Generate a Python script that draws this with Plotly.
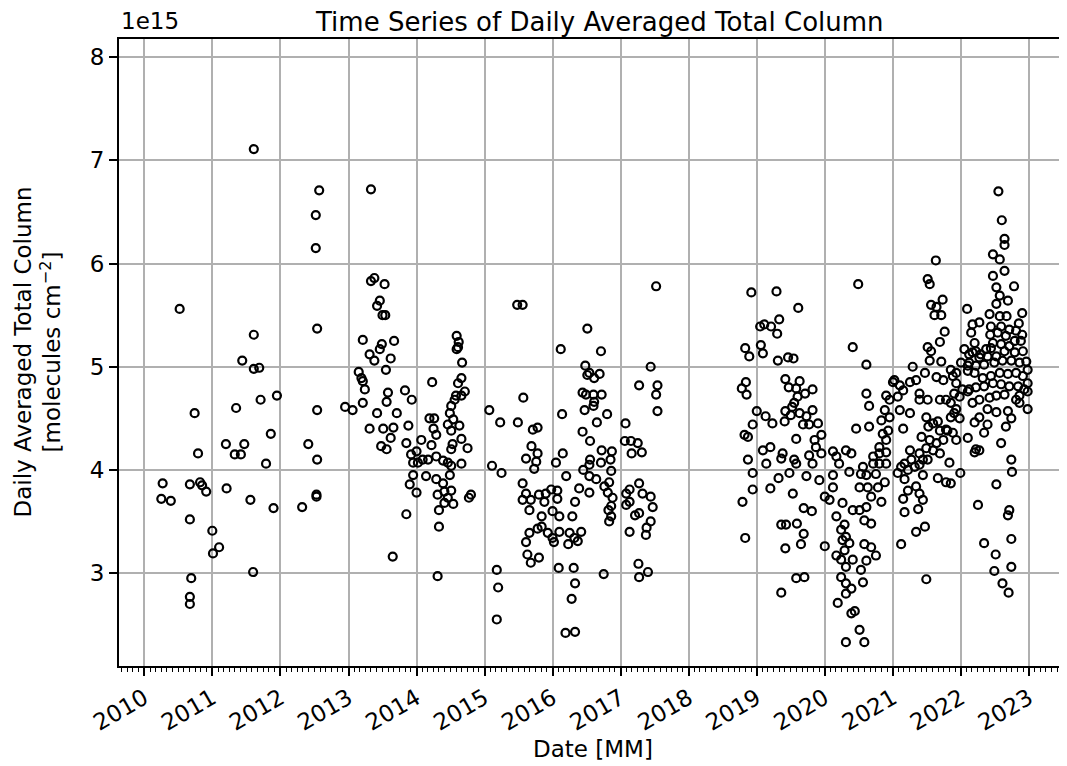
import pandas as pd
import plotly.graph_objects as go

# ---- data: decimal year and daily averaged total column (units of 1e15 molecules cm^-2) ----
yr_a = [2010.52, 2011.61, 2011.44, 2011.61, 2011.69, 2011.95, 2011.71, 2011.35, 2010.74, 2011.86,
        2011.20, 2011.47, 2011.33, 2011.42, 2010.79, 2011.79, 2010.27, 2010.67, 2010.82, 2010.85,
        2010.91, 2011.21, 2010.25, 2010.39, 2011.56, 2011.90, 2010.67, 2011.00, 2011.10, 2011.01,
        2011.60, 2010.69, 2010.67, 2010.67, 2011.61]
val_a = [5.56, 5.31, 5.06, 4.98, 4.99, 4.72, 4.68, 4.60, 4.55, 4.35,
         4.25, 4.25, 4.15, 4.15, 4.16, 4.06, 3.87, 3.86, 3.88, 3.85,
         3.79, 3.82, 3.72, 3.70, 3.71, 3.63, 3.52, 3.41, 3.25, 3.19,
         3.01, 2.95, 2.77, 2.70, 7.11]

yr_b = [2012.57, 2012.52, 2012.52, 2013.33, 2012.54, 2013.33, 2013.38, 2013.53, 2013.46, 2013.42,
        2013.50, 2013.54, 2013.21, 2013.67, 2013.49, 2013.46, 2013.31, 2013.38, 2013.62, 2013.55,
        2013.15, 2013.19, 2013.21, 2013.24, 2013.58, 2013.56, 2013.83, 2013.93, 2014.23, 2013.21,
        2012.95, 2013.06, 2013.42, 2013.71, 2012.54, 2013.31, 2013.51, 2013.66, 2013.62, 2013.88,
        2013.48, 2013.56, 2013.85, 2012.41, 2012.54, 2012.53, 2012.53, 2012.32, 2013.85, 2013.65,
        2014.31]
val_b = [6.71, 6.47, 6.15, 6.72, 5.37, 5.83, 5.86, 5.80, 5.64, 5.59,
         5.50, 5.50, 5.26, 5.25, 5.22, 5.17, 5.12, 5.06, 5.08, 4.97,
         4.95, 4.89, 4.86, 4.78, 4.75, 4.66, 4.77, 4.68, 4.85, 4.65,
         4.61, 4.58, 4.55, 4.55, 4.58, 4.40, 4.40, 4.41, 4.31, 4.43,
         4.23, 4.20, 4.26, 4.25, 4.10, 3.74, 3.76, 3.64, 3.57, 3.16,
         2.97]

yr_c = [2014.59, 2014.62, 2014.59, 2014.61, 2014.67, 2014.66, 2014.61, 2014.71, 2014.58, 2014.66,
        2014.56, 2014.51, 2014.49, 2014.54, 2014.63, 2014.46, 2014.51, 2014.53, 2014.51, 2014.66,
        2014.75, 2014.66, 2014.19, 2014.26, 2014.25, 2014.29, 2014.22, 2014.07, 2014.00, 2013.92,
        2013.95, 2014.02, 2014.09, 2014.17, 2014.29, 2014.39, 2014.46, 2014.51, 2013.95, 2014.14,
        2014.29, 2014.49, 2013.90, 2014.00, 2014.31, 2014.41, 2014.46, 2014.51, 2014.54, 2014.39,
        2014.41, 2014.33, 2014.33, 2014.77, 2014.80]
val_c = [5.30, 5.24, 5.17, 5.19, 5.04, 4.89, 4.84, 4.76, 4.72, 4.72,
         4.68, 4.62, 4.55, 4.49, 4.43, 4.44, 4.38, 4.25, 4.20, 4.30,
         4.21, 4.06, 4.50, 4.50, 4.40, 4.34, 4.24, 4.29, 4.18, 4.15,
         4.07, 4.07, 4.10, 4.10, 4.13, 4.09, 4.07, 4.04, 3.95, 3.94,
         3.91, 3.95, 3.86, 3.78, 3.76, 3.79, 3.73, 3.80, 3.67, 3.87,
         3.68, 3.61, 3.45, 3.73, 3.76]

yr_d = [2015.07, 2015.23, 2015.11, 2015.25, 2015.18, 2015.20, 2015.18, 2015.48, 2015.56, 2015.49,
        2015.57, 2015.71, 2015.78, 2015.69, 2015.78, 2015.61, 2015.76, 2015.73, 2016.12, 2016.14,
        2016.15, 2016.05, 2016.20, 2015.56, 2015.61, 2015.68, 2015.56, 2015.66, 2015.80, 2015.90,
        2015.98, 2016.07, 2015.88, 2016.00, 2016.10, 2015.84, 2015.84, 2015.78, 2015.66, 2015.61,
        2015.93, 2016.00, 2016.10, 2016.25, 2016.32, 2016.42, 2016.29, 2016.33, 2016.39, 2015.63,
        2015.68, 2015.80, 2016.09, 2016.31, 2016.33, 2016.28, 2016.19, 2016.33, 2016.07, 2016.37,
        2016.23, 2016.02]
val_d = [4.58, 4.46, 4.04, 3.97, 3.03, 2.86, 2.55, 5.60, 5.60, 4.46,
         4.70, 4.39, 4.41, 4.23, 4.16, 4.11, 4.08, 4.01, 5.17, 4.54,
         4.16, 4.07, 3.94, 3.87, 3.77, 3.71, 3.71, 3.61, 3.76, 3.77,
         3.81, 3.80, 3.69, 3.60, 3.55, 3.55, 3.45, 3.43, 3.39, 3.30,
         3.39, 3.34, 3.40, 3.39, 3.34, 3.40, 3.55, 3.69, 3.82, 3.18,
         3.10, 3.15, 3.05, 3.05, 2.90, 2.75, 2.42, 2.43, 3.72, 3.31,
         3.28, 3.30]

yr_e = [2017.52, 2016.51, 2016.71, 2016.48, 2016.54, 2016.61, 2016.69, 2016.51, 2017.44, 2017.27,
        2017.54, 2017.52, 2017.54, 2016.44, 2016.49, 2016.60, 2016.72, 2016.61, 2016.47, 2016.60,
        2016.80, 2016.65, 2016.44, 2016.55, 2017.07, 2017.06, 2017.15, 2017.25, 2017.16, 2017.31,
        2016.72, 2016.87, 2016.85, 2016.71, 2016.55, 2016.54, 2016.45, 2016.86, 2016.54, 2016.64,
        2016.76, 2016.83, 2016.81, 2016.88, 2016.86, 2016.82, 2016.86, 2016.83, 2016.54, 2017.08,
        2017.13, 2017.27, 2017.32, 2017.44, 2017.47, 2017.13, 2017.08, 2017.21, 2017.27, 2017.44,
        2017.38, 2017.37, 2017.13, 2017.26, 2017.40, 2017.27, 2016.75]
val_e = [5.78, 5.37, 5.15, 5.01, 4.94, 4.89, 4.93, 4.92, 5.00, 4.82,
         4.82, 4.73, 4.57, 4.75, 4.73, 4.73, 4.73, 4.66, 4.58, 4.62,
         4.54, 4.46, 4.37, 4.28, 4.45, 4.28, 4.28, 4.26, 4.16, 4.17,
         4.19, 4.18, 4.10, 4.07, 4.10, 4.05, 4.00, 3.99, 3.94, 3.91,
         3.84, 3.88, 3.78, 3.73, 3.65, 3.61, 3.55, 3.50, 3.78, 3.77,
         3.81, 3.87, 3.77, 3.74, 3.64, 3.69, 3.66, 3.56, 3.58, 3.50,
         3.44, 3.37, 3.40, 3.09, 3.01, 2.96, 2.99]

yr_f = [2018.92, 2019.29, 2019.61, 2019.05, 2019.11, 2019.21, 2019.33, 2019.30, 2018.83, 2018.89,
        2019.06, 2019.09, 2019.31, 2019.46, 2019.54, 2020.41, 2018.84, 2018.78, 2018.85, 2019.42,
        2019.47, 2019.63, 2019.58, 2019.71, 2019.82, 2019.60, 2019.55, 2019.52, 2019.00, 2018.94,
        2019.13, 2019.23, 2019.42, 2019.41, 2019.50, 2019.63, 2019.73, 2019.82, 2019.68, 2019.77,
        2019.90, 2020.46, 2018.82, 2018.87, 2019.58, 2019.85, 2019.95, 2019.09, 2019.20, 2019.38,
        2019.36, 2019.77, 2019.87, 2019.95, 2020.12, 2020.17, 2020.31, 2020.39, 2018.87, 2019.14,
        2019.55, 2019.58, 2019.82, 2020.21, 2018.94, 2019.48, 2019.73, 2019.92, 2020.12, 2020.36,
        2018.94, 2019.20, 2019.32, 2019.53, 2020.00, 2020.12, 2020.07, 2020.26, 2018.79, 2019.69,
        2019.81, 2020.17, 2020.29, 2020.24, 2020.41, 2019.36, 2019.43, 2019.59, 2019.69, 2019.65,
        2019.42, 2018.83, 2020.00, 2019.58, 2019.70, 2019.36, 2020.17, 2020.24, 2020.29, 2020.36,
        2020.31, 2020.26, 2020.31, 2020.41, 2020.24, 2020.31, 2020.39, 2020.31, 2020.19, 2020.39,
        2020.44, 2020.31, 2020.51, 2020.49]
val_f = [5.72, 5.73, 5.57, 5.39, 5.41, 5.39, 5.46, 5.32, 5.18, 5.10,
         5.21, 5.13, 5.06, 5.09, 5.08, 5.19, 4.85, 4.79, 4.73, 4.88,
         4.80, 4.86, 4.79, 4.74, 4.78, 4.71, 4.65, 4.61, 4.57, 4.44,
         4.52, 4.45, 4.57, 4.47, 4.53, 4.55, 4.52, 4.58, 4.44, 4.44,
         4.45, 4.40, 4.34, 4.32, 4.30, 4.29, 4.34, 4.19, 4.22, 4.16,
         4.11, 4.14, 4.22, 4.16, 4.18, 4.13, 4.19, 4.16, 4.10, 4.06,
         4.10, 4.06, 4.06, 4.06, 3.97, 3.97, 3.94, 3.90, 3.95, 3.98,
         3.81, 3.82, 3.92, 3.77, 3.74, 3.83, 3.71, 3.68, 3.69, 3.63,
         3.60, 3.55, 3.47, 3.42, 3.61, 3.47, 3.47, 3.48, 3.38, 3.28,
         3.24, 3.34, 3.26, 2.95, 2.96, 2.81, 3.17, 3.13, 3.22, 3.29,
         3.35, 3.32, 3.06, 3.13, 2.96, 2.90, 2.85, 2.80, 2.71, 2.61,
         2.63, 2.33, 2.45, 5.80]

yr_g = [2020.61, 2020.61, 2020.65, 2020.65, 2020.56, 2020.71, 2020.80, 2020.90, 2020.71, 2020.80,
        2020.90, 2020.80, 2020.90, 2020.85, 2020.93, 2020.83, 2020.95, 2020.90, 2021.00, 2020.95,
        2020.88, 2020.53, 2020.61, 2020.75, 2020.88, 2020.51, 2020.63, 2020.78, 2020.68, 2020.83,
        2020.51, 2020.61, 2020.58, 2020.68, 2020.58, 2020.68, 2020.75, 2020.61, 2020.53, 2020.56,
        2020.58]
val_g = [5.02, 4.74, 4.62, 4.42, 4.03, 4.06, 4.06, 4.06, 4.13, 4.16,
         4.17, 4.22, 4.29, 4.35, 4.38, 4.48, 4.51, 4.72, 4.85, 4.68,
         4.58, 3.96, 3.95, 3.96, 3.88, 3.83, 3.83, 3.83, 3.74, 3.69,
         3.61, 3.64, 3.51, 3.48, 3.28, 3.25, 3.17, 3.12, 3.03, 2.91,
         2.33]

yr_h = [2021.56, 2021.64, 2021.61, 2021.71, 2021.76, 2021.69, 2021.51, 2021.56, 2021.54, 2021.71,
        2021.29, 2021.47, 2021.34, 2021.25, 2021.15, 2021.07, 2021.02, 2021.10, 2021.39, 2021.51,
        2021.39, 2021.25, 2021.10, 2021.15, 2021.64, 2021.74, 2021.69, 2021.78, 2021.49, 2021.59,
        2021.66, 2021.52, 2021.69, 2021.78, 2021.42, 2021.54, 2021.64, 2021.74, 2021.49, 2021.39,
        2021.59, 2021.69, 2021.44, 2021.25, 2021.27, 2021.17, 2021.12, 2021.22, 2021.32, 2021.39,
        2021.51, 2021.07, 2021.17, 2021.44, 2021.22, 2021.34, 2021.39, 2021.15, 2021.44, 2021.17,
        2021.37, 2021.34, 2021.47, 2021.12, 2021.49, 2021.66, 2021.78, 2021.63, 2021.51, 2021.54,
        2021.73]
val_h = [5.60, 5.58, 5.50, 5.50, 5.34, 5.24, 5.19, 5.15, 5.06, 5.05,
         5.00, 4.94, 4.87, 4.85, 4.77, 4.71, 4.87, 4.82, 4.74, 4.68,
         4.68, 4.55, 4.58, 4.40, 4.90, 4.87, 4.68, 4.68, 4.51, 4.45,
         4.47, 4.42, 4.38, 4.39, 4.32, 4.29, 4.26, 4.29, 4.21, 4.16,
         4.19, 4.16, 4.10, 4.19, 4.10, 4.06, 4.03, 4.00, 4.03, 4.05,
         4.10, 3.97, 3.91, 3.95, 3.80, 3.84, 3.77, 3.72, 3.71, 3.59,
         3.62, 3.40, 3.45, 3.28, 2.94, 3.92, 3.88, 6.03, 5.85, 5.80,
         5.65]

yr_i = [2022.09, 2022.17, 2022.27, 2022.15, 2022.20, 2022.05, 2022.12, 2022.22, 2022.29, 2022.37,
        2022.44, 2022.12, 2022.55, 2022.60, 2022.64, 2022.64, 2022.47, 2022.57, 2022.47, 2022.52,
        2022.64, 2022.78, 2022.57, 2022.69, 2022.52, 2022.90, 2022.85, 2022.90, 2022.42, 2022.57,
        2022.67, 2022.44, 2022.59, 2022.71, 2022.54, 2022.81, 2022.43, 2022.66, 2022.79, 2022.47,
        2022.59, 2022.71, 2022.88, 2022.91, 2022.79, 2022.64, 2022.52, 2022.39, 2022.27, 2022.17,
        2022.96, 2022.86, 2022.74, 2022.61, 2022.49, 2022.34, 2022.22, 2022.10, 2022.00, 2022.98,
        2022.91, 2022.81, 2022.69, 2022.57, 2022.44, 2022.32, 2022.20, 2022.10, 2021.93, 2021.85,
        2022.98, 2022.93, 2022.84, 2022.71, 2022.59, 2022.47, 2022.34, 2022.22, 2022.12, 2022.02,
        2021.93, 2021.88, 2022.98, 2022.86, 2022.81, 2022.64, 2022.52, 2022.42, 2022.27, 2022.17,
        2022.10, 2021.98, 2021.90, 2021.85, 2022.98, 2022.86, 2022.69, 2022.52, 2022.39, 2022.27,
        2022.20, 2021.90, 2021.98, 2021.85, 2021.93, 2022.74, 2022.66, 2022.39, 2022.34, 2022.10,
        2022.59, 2022.22, 2022.20, 2022.27, 2021.93, 2021.88, 2021.80, 2022.74, 2022.75, 2021.99,
        2022.52, 2022.25, 2022.71, 2022.69, 2022.74, 2022.34, 2022.51, 2022.74, 2022.49, 2022.61,
        2022.70, 2021.83, 2021.85]
val_i = [5.56, 5.41, 5.43, 5.33, 5.23, 5.17, 5.12, 5.15, 5.12, 5.17,
         5.18, 5.04, 6.70, 6.42, 6.24, 6.18, 6.09, 6.04, 5.88, 5.77,
         5.93, 5.78, 5.69, 5.64, 5.61, 5.52, 5.42, 5.31, 5.51, 5.49,
         5.49, 5.39, 5.39, 5.36, 5.33, 5.35, 5.31, 5.30, 5.25, 5.23,
         5.22, 5.20, 5.25, 5.15, 5.14, 5.15, 5.10, 5.10, 5.09, 5.14,
         5.05, 5.04, 5.06, 5.06, 5.04, 5.02, 5.01, 5.01, 5.04, 4.97,
         4.91, 4.94, 4.93, 4.94, 4.91, 4.89, 4.94, 4.96, 4.94, 4.97,
         4.84, 4.78, 4.81, 4.81, 4.83, 4.84, 4.81, 4.80, 4.78, 4.78,
         4.84, 4.91, 4.76, 4.72, 4.68, 4.73, 4.72, 4.70, 4.68, 4.65,
         4.76, 4.71, 4.74, 4.65, 4.59, 4.65, 4.57, 4.56, 4.59, 4.51,
         4.46, 4.55, 4.50, 4.51, 4.59, 4.50, 4.42, 4.44, 4.36, 4.31,
         4.26, 4.20, 4.17, 4.19, 4.29, 4.36, 4.38, 4.10, 3.98, 3.97,
         3.86, 3.66, 3.61, 3.56, 3.33, 3.29, 3.18, 3.06, 3.02, 2.90,
         2.81, 4.07, 3.87]

year_ticks = list(range(2010, 2024))

years = yr_a + yr_b + yr_c + yr_d + yr_e + yr_f + yr_g + yr_h + yr_i
values = val_a + val_b + val_c + val_d + val_e + val_f + val_g + val_h + val_i


def to_date(y):
    yi = int(y)
    start = pd.Timestamp(yi, 1, 1)
    end = pd.Timestamp(yi + 1, 1, 1)
    return start + (end - start) * (y - yi)


dates = [to_date(y) for y in years]

FONT = "DejaVu Sans"
fig = go.Figure()
fig.add_trace(go.Scatter(
    x=dates, y=values, mode="markers",
    marker=dict(symbol="circle-open", size=8, color="black", line=dict(width=2.2, color="black")),
    showlegend=False, hoverinfo="skip",
))

# page body adds an 8 px offset; the figure is sized so the axes land where they should
fig.update_layout(
    width=1059, height=758,
    margin=dict(l=111, r=1, t=31, b=100, autoexpand=False),
    paper_bgcolor="white", plot_bgcolor="white",
    font=dict(family=FONT, size=23, color="black"),
)

fig.update_xaxes(
    type="date", automargin=False,
    range=[to_date(2009.628), to_date(2023.544)],
    tickvals=[pd.Timestamp(y, 1, 1) for y in year_ticks],
    ticktext=[str(y) for y in year_ticks],
    tickangle=-30,
    ticks="outside", ticklen=8, tickwidth=1.9, tickcolor="black",
    tickfont=dict(size=23, family=FONT),
    showline=True, linecolor="black", linewidth=1.9, mirror=True,
    showgrid=True, gridcolor="#b0b0b0", gridwidth=1.9,
    zeroline=False,
    minor=dict(dtick="M1", tick0="2010-01-01", ticks="outside", ticklen=4.5,
               tickwidth=1.4, tickcolor="black", showgrid=False),
)
fig.update_yaxes(
    automargin=False,
    range=[2.099, 8.177],
    tickvals=[3, 4, 5, 6, 7, 8],
    ticks="outside", ticklen=8, tickwidth=1.9, tickcolor="black",
    tickfont=dict(size=23, family=FONT),
    showline=True, linecolor="black", linewidth=1.9, mirror=True,
    showgrid=True, gridcolor="#b0b0b0", gridwidth=1.9,
    zeroline=False,
)

fig.add_annotation(text="Time Series of Daily Averaged Total Column",
                   xref="paper", yref="paper", x=0.507, y=1, yshift=0,
                   xanchor="center", yanchor="bottom", showarrow=False,
                   font=dict(size=26, family=FONT, color="black"))
fig.add_annotation(text="1e15", xref="paper", yref="paper", x=0, y=1, yshift=3,
                   xanchor="left", yanchor="bottom", showarrow=False,
                   font=dict(size=23, family=FONT, color="black"))
fig.add_annotation(text="Date [MM]", xref="paper", yref="paper", x=0.5, y=0, yshift=-68,
                   xanchor="center", yanchor="top", showarrow=False,
                   font=dict(size=23, family=FONT, color="black"))
fig.add_annotation(text="Daily Averaged Total Column<br>[molecules cm<sup>\u22122</sup>]",
                   xref="paper", yref="paper", x=0, y=0.5, xshift=-82,
                   xanchor="center", yanchor="middle", textangle=-90, showarrow=False,
                   font=dict(size=23, family=FONT, color="black"))

fig.write_html("out.html")
